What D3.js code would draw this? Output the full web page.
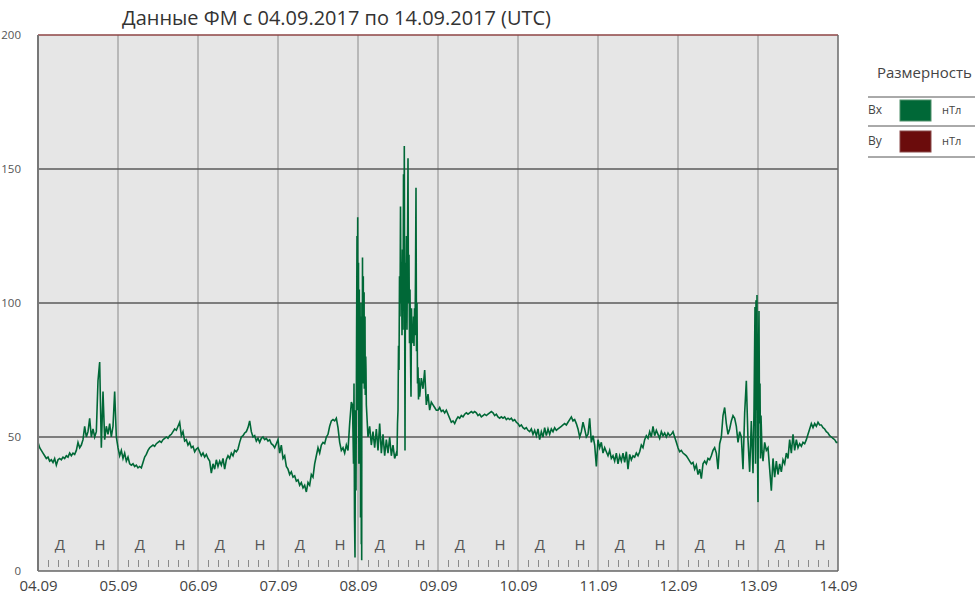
<!DOCTYPE html>
<html><head><meta charset="utf-8">
<script src="https://cdn.jsdelivr.net/npm/d3@7"></script>
<style>
body{margin:0;background:#fff;}
text{font-family:"Open Sans","Noto Sans",sans-serif;}
</style></head>
<body>
<svg id="chart" width="978" height="596"></svg>
<script>
// ---------- DATA ----------
const title = "Данные ФМ с 04.09.2017 по 14.09.2017 (UTC)";
const dayLabels = ["04.09","05.09","06.09","07.09","08.09","09.09","10.09","11.09","12.09","13.09","14.09"];
const yTicks = [0, 50, 100, 150, 200];
const dayNightLabels = ["Д", "Н"];
const dayNightHours = [6.6, 18.6];
const legendTitle = "Размерность";
const seriesNames = ["Bx", "By"];
const seriesUnits = ["нТл", "нТл"];
const seriesColors = ["#006837", "#6b0c0c"];
const stepHours = 0.5;

// Bx, one value every 30 minutes, by day
const bxDay1 = [48,46,45,44,43,42,42.5,41,41.5,40.5,42,39.5,41.5,42,41.5,42.5,42,43,42.5,44,43,44,43.5,45,48,46,47,49,54,50,52,57,50,53,50,52,71,78,46,67,49,54,51,55,50,54,67,50];
const bxDay2 = [46,43,45,42,44,41,42.5,40,39.5,40,39,39.5,38.5,39,38.5,40.5,42.5,43.5,45,46,46.5,47,46.5,47.5,48,48.5,48,49,49.5,50,49.5,50.5,51,52,53,52.5,54,55.5,50.5,52,48.5,49,47,48,46,46.5,44.5,45.5];
const bxDay3 = [46,44.5,43,44,42.5,43.5,42,41,36.5,40,38,41.5,39,41,39.5,42,38,41.5,43,42,44,43,45,44.5,45.5,48,50,50.5,51.5,52,53.5,56,52,50,50.5,48.5,49.5,48,49.5,50,49,49.5,48.5,49,47.5,47,46,47.5];
const bxDay4 = [49,44,47,42,43,39,38,36,37,35,35.5,33.5,34,32,33,31,32,29.5,33,32,36,35,40,43,46,44,47,48,47.5,50,51,54,56,56.5,56,57,53.5,48,45,46,44,47,45,55,63,40,27,5];
const bxDay5 = [90,20,110,75,68,62,50,54,47,52,46,53,45,55,44,51,43,49,44,50,43,47,42,44,60,85,120,100,140,95,130,105,90,110,95,125,70,65,72,68,75,62,66,60,63,62,61,60];
const bxDay6 = [60,61,59.5,60,59,60,58.5,57,55.5,56,55,56.5,57.5,57,58,57.5,58.5,59,58.5,59,59.5,59,59.5,59,58,58.5,57.5,58,58.5,58,58.5,59,59.5,59,58,58.5,57.5,57,57.5,57,57.5,56.5,57,56.5,57,56,56.5,55.5];
const bxDay7 = [55,54,54.5,53.5,53,53.5,52.5,52,53,51,52.5,50.5,53,49,52,50,53.5,50.5,53,51,53,52,53.5,52.5,53,53.5,54,54.5,55,54.5,55.5,56.5,57.5,56,56.5,55,53,50,52,55.5,53,50,51,57,48,50.5,47,39];
const bxDay8 = [49,46,48,44,46,44.5,43,45,42,43,41,44,40,43,41,44,40.5,44.5,38,43.5,41.5,43,42.5,44,43,44.5,47,46,49,50.5,49.5,52,50,54,50.5,52.5,51,49.5,52,50.5,51.5,50,51.5,50.5,51,52,50,48];
const bxDay9 = [46,44.5,45,44,43.5,43,42,41,40,40.5,38,39.5,36,38,34.5,40,41,40,42,41.5,43,45,46,44,38,47.5,50,58,61,55,51,53,56,58,57,54,48,52,50,38,59,71,49,37,56,36.5,98,103];
const bxDay10 = [26,97,46,41,48,45,46,38,30,42,35,41,36,40,37,41.5,40,44,42,49,44,51,45,49,46,47.5,46.5,48,47.5,49,51,53,55,53.5,55,54,55.5,54.5,54.5,53.5,53,52,51.5,50.5,50,49.5,49,48];
const bxEnd = 48;

// fine-resolution bursts: [hour, value]
const burst0809a = [[94.35,62],[94.65,40],[94.8,70],[94.95,20],[95.1,5],[95.25,60],[95.4,30],[95.55,80],[95.7,125],[95.79,60],[95.91,132],[95.97,72],[96.03,105],[96.09,70],[96.15,115],[96.21,68],[96.27,40],[96.33,100],[96.39,105],[96.45,68],[96.51,95],[96.57,70],[96.63,100],[96.69,75],[96.75,20],[96.81,90],[96.87,95],[96.93,68],[96.99,10],[97.05,80],[97.11,4],[97.17,100],[97.23,85],[97.29,70],[97.35,117],[97.41,75],[97.47,70],[97.53,102],[97.59,110],[97.65,72],[97.71,80],[97.77,100],[97.83,104],[97.89,68],[97.95,70],[98.02,90],[98.1,95],[98.18,66],[98.25,66],[98.32,80],[98.4,75]];
const burst0809b = [[107.7,43],[107.85,55],[108.0,60],[108.15,84],[108.3,75],[108.45,110],[108.6,95],[108.75,136],[108.9,100],[109.05,115],[109.2,88],[109.35,120],[109.5,90],[109.65,148],[109.8,110],[109.89,158.6],[110.01,95],[110.1,45],[110.25,115],[110.4,100],[110.55,125],[110.7,90],[110.85,120],[111.0,154],[111.15,100],[111.3,118],[111.45,85],[111.6,105],[111.75,80],[111.9,65],[112.05,98],[112.2,86],[112.35,92],[112.5,85],[112.65,95],[112.8,84],[112.95,98],[113.1,88],[113.25,110],[113.4,143],[113.55,82],[113.7,100],[113.85,70],[114.0,76],[114.15,64],[114.3,72]];
const burst1309 = [[214.8,60],[215.1,98.5],[215.25,40],[215.4,101],[215.55,60],[215.7,103],[215.85,45],[216.0,25.7],[216.15,80],[216.3,97],[216.45,55],[216.6,70],[216.75,42],[216.9,58],[217.2,45]];

// ---------- BUILD ----------
const bxDays = [bxDay1,bxDay2,bxDay3,bxDay4,bxDay5,bxDay6,bxDay7,bxDay8,bxDay9,bxDay10];
const bursts = [burst0809a, burst0809b, burst1309];
let basePts = [];
bxDays.forEach((arr, d) => arr.forEach((v, i) => basePts.push([d*24 + i*stepHours, v])));
basePts.push([240, bxEnd]);
const inBurst = h => bursts.some(b => h >= b[0][0] && h <= b[b.length-1][0]);
let pts = basePts.filter(p => !inBurst(p[0]));
bursts.forEach(b => pts = pts.concat(b));
pts.sort((a,b) => a[0]-b[0]);

const svg = d3.select("#chart");
const L = 38, R = 838, T = 35, B = 571;
const x = d3.scaleLinear().domain([0, 240]).range([L, R]);
const y = d3.scaleLinear().domain([0, 200]).range([B, T]);

svg.append("rect").attr("x", L).attr("y", T).attr("width", R-L).attr("height", B-T).attr("fill", "#e6e6e6");

// vertical day grid
const dayHours = dayLabels.map((d,i) => i*24);
svg.append("g").selectAll("line").data(dayHours.slice(1, -1)).join("line")
  .attr("x1", d => x(d)).attr("x2", d => x(d)).attr("y1", T).attr("y2", B)
  .attr("stroke", "#a9a9a9").attr("stroke-width", 1.5);

// horizontal grid
svg.append("g").selectAll("line").data(yTicks.filter(v => v > 0 && v < 200)).join("line")
  .attr("x1", L).attr("x2", R).attr("y1", d => y(d)).attr("y2", d => y(d))
  .attr("stroke", "#5a5a5a").attr("stroke-width", 1.5);

// minor 3-hour ticks
const minor = d3.range(0, 240, 3).filter(h => h % 24 !== 0);
svg.append("g").selectAll("line").data(minor).join("line")
  .attr("x1", d => Math.round(x(d)) + 0.5).attr("x2", d => Math.round(x(d)) + 0.5).attr("y1", B-11).attr("y2", B-4)
  .attr("stroke", "#8a8a8a").attr("stroke-width", 1);

// day/night labels
const dn = [];
for (let d = 0; d < 10; d++) dayNightLabels.forEach((lab, k) => dn.push({h: d*24 + dayNightHours[k], lab}));
svg.append("g").selectAll("text").data(dn).join("text")
  .attr("x", d => x(d.h)).attr("y", B - 21).attr("text-anchor", "middle")
  .attr("font-size", 15).attr("fill", "#555").text(d => d.lab);

// clip + line
svg.append("clipPath").attr("id", "clip").append("rect")
  .attr("x", L).attr("y", T).attr("width", R-L).attr("height", B-T);
const line = d3.line().x(d => x(d[0])).y(d => y(d[1]));
svg.append("path").datum(pts).attr("clip-path", "url(#clip)")
  .attr("d", line).attr("fill", "none").attr("stroke", seriesColors[0])
  .attr("stroke-width", 1.6).attr("stroke-linejoin", "miter");

// frame
svg.append("line").attr("x1", L).attr("x2", R).attr("y1", T).attr("y2", T).attr("stroke", "#8e4545").attr("stroke-width", 1.5);
svg.append("line").attr("x1", R).attr("x2", R).attr("y1", T).attr("y2", B).attr("stroke", "#6a6a6a").attr("stroke-width", 1.5);
svg.append("line").attr("x1", L).attr("x2", R).attr("y1", B).attr("y2", B).attr("stroke", "#666").attr("stroke-width", 1.5);
svg.append("line").attr("x1", L).attr("x2", L).attr("y1", T).attr("y2", B).attr("stroke", "#777").attr("stroke-width", 2);

// axes labels
const xAxis = d3.axisBottom(x).tickValues(dayHours).tickFormat((d,i) => dayLabels[i]).tickSize(0).tickPadding(0);
const gx = svg.append("g").attr("transform", `translate(0,${B})`).call(xAxis);
gx.select(".domain").remove();
gx.selectAll("text").attr("font-size", 15).attr("fill", "#444").attr("dy", null).attr("y", 20)
  .style("font-family", "'Open Sans','Noto Sans',sans-serif");

const yAxis = d3.axisLeft(y).tickValues(yTicks).tickSize(0).tickPadding(0);
const gy = svg.append("g").attr("transform", `translate(21,0)`).call(yAxis);
gy.select(".domain").remove();
gy.selectAll("text").attr("text-anchor", "end").attr("x", 0).attr("font-size", 11.5).attr("fill", "#555")
  .style("font-family", "'Open Sans','Noto Sans',sans-serif");

// title
svg.append("text").attr("x", 122).attr("y", 25)
  .attr("font-size", 20).attr("fill", "#333")
  .attr("textLength", 429).attr("lengthAdjust", "spacingAndGlyphs").text(title);

// legend
svg.append("text").attr("x", 877).attr("y", 78).attr("font-size", 15).attr("fill", "#444").text(legendTitle);
const lg = svg.append("g");
[97, 126, 157].forEach(yy => lg.append("line").attr("x1", 868).attr("x2", 975).attr("y1", yy).attr("y2", yy).attr("stroke", "#555").attr("stroke-width", 1));
seriesNames.forEach((nm, i) => {
  const cy = 110 + i*31;
  lg.append("text").attr("x", 868).attr("y", cy + 4).attr("font-size", 12).attr("fill", "#444").text(nm);
  lg.append("rect").attr("x", 900).attr("y", cy - 10).attr("width", 31).attr("height", 21)
    .attr("fill", seriesColors[i]).attr("stroke", i === 0 ? "#4f8f6a" : "#8a4a4a").attr("stroke-width", 1);
  lg.append("text").attr("x", 942).attr("y", cy + 4).attr("font-size", 11).attr("fill", "#444").text(seriesUnits[i]);
});
</script>
</body></html>
